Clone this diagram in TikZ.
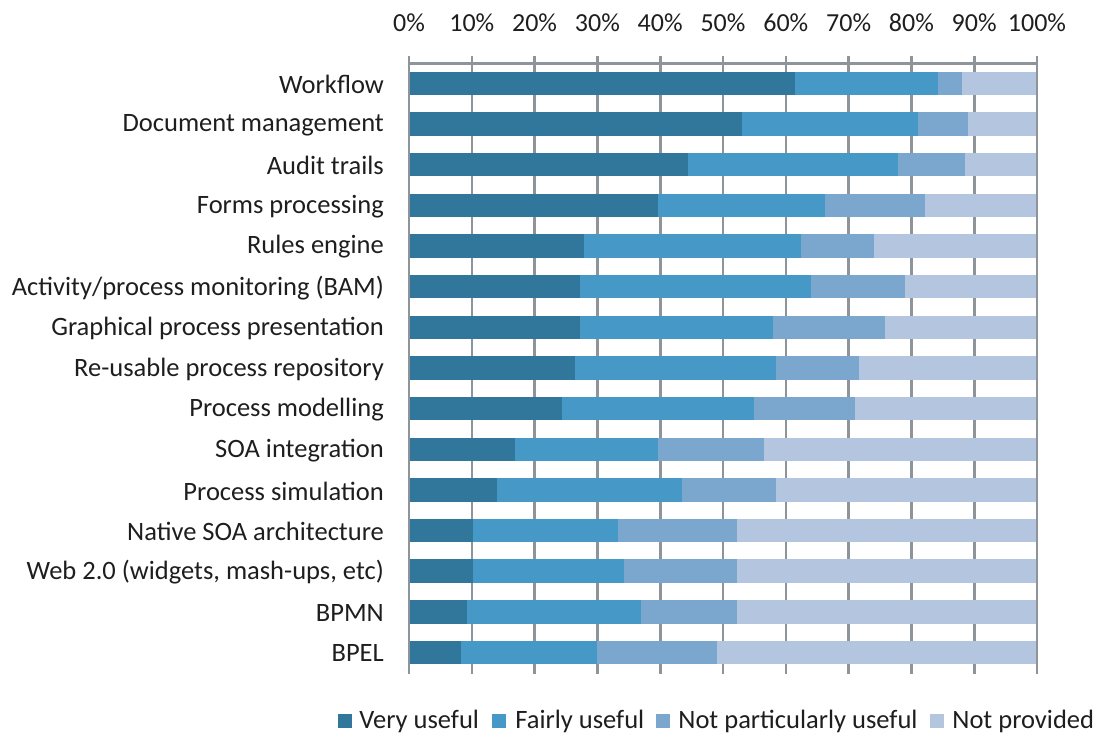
\documentclass[tikz,border=0pt]{standalone}
\usepackage{fontspec}
\setmainfont{Carlito}
\usetikzlibrary{positioning}
\definecolor{veryuse}{HTML}{31779B}
\definecolor{fairuse}{HTML}{4699C6}
\definecolor{notpart}{HTML}{7BA7CF}
\definecolor{notprov}{HTML}{B4C6DF}
\definecolor{gridgray}{HTML}{8E959A}
\definecolor{txtgray}{HTML}{1E1E1E}
\tikzset{
  gridline/.style={draw=gridgray, line width=2.6pt},
  catlabel/.style={anchor=east, inner sep=0pt, text=txtgray, font=\fontsize{26.5}{30}\selectfont},
  ticklabel/.style={inner sep=0pt, text=txtgray, font=\fontsize{26}{30}\selectfont},
  legbox/.style={minimum size=14pt, inner sep=0pt},
  legtext/.style={anchor=west, inner sep=0pt, text=txtgray, font=\fontsize{26.5}{30}\selectfont}
}
\begin{document}
\begin{tikzpicture}[x=1pt,y=-1pt]
\useasboundingbox (0,0) rectangle (1096,737);
% value axis and grid
\foreach \i in {0,...,10}{
  \pgfmathtruncatemacro\pct{10*\i}
  \pgfmathsetmacro\xg{409+62.8*\i}
  \draw[gridline] (\xg,56) -- (\xg,674);
  \node[ticklabel] (tick\i) at (\xg,23) {\pct\%};
}
\draw[gridline] (409,63.3) -- (1037,63.3);
% stacked bars
\foreach \name/\a/\b/\c [count=\r from 0] in {
  Workflow/61.4/84.2/88.0,
  Document management/53.1/81.0/89.0,
  Audit trails/44.4/77.8/88.6,
  Forms processing/39.6/66.2/82.2,
  Rules engine/27.9/62.4/74.1,
  {Activity/process monitoring (BAM)}/27.2/64.0/79.0,
  Graphical process presentation/27.2/57.9/75.8,
  Re-usable process repository/26.5/58.5/71.6,
  Process modelling/24.3/55.0/71.0,
  SOA integration/16.8/39.6/56.6,
  Process simulation/14.0/43.4/58.5,
  Native SOA architecture/10.2/33.2/52.2,
  {Web 2.0 (widgets, mash-ups, etc)}/10.2/34.2/52.2,
  BPMN/9.2/37.0/52.2,
  BPEL/8.3/30.0/49.0}{
  \pgfmathsetmacro\yt{83.5+40.64*\r-11.7}
  \pgfmathsetmacro\yb{83.5+40.64*\r+11.7}
  \pgfmathsetmacro\xa{409+6.28*\a}
  \pgfmathsetmacro\xb{409+6.28*\b}
  \pgfmathsetmacro\xc{409+6.28*\c}
  \fill[veryuse] (409,\yt) rectangle (\xa,\yb);
  \fill[fairuse] (\xa,\yt) rectangle (\xb,\yb);
  \fill[notpart] (\xb,\yt) rectangle (\xc,\yb);
  \fill[notprov] (\xc,\yt) rectangle (1037,\yb);
  \node[catlabel] (cat\r) at (384,{84.5+40.64*\r}) {\name};
}
\draw[gridline] (409,56) -- (409,674);
\draw[gridline] (1037,56) -- (1037,674);
% legend
\node[legbox, fill=veryuse] (keyvery) at (345,721) {};
\node[legtext, right=7pt of keyvery] (txtvery) {Very useful};
\node[legbox, fill=fairuse] (keyfair) at (499,721) {};
\node[legtext, right=9pt of keyfair] (txtfair) {Fairly useful};
\node[legbox, fill=notpart] (keynotpart) at (663,721) {};
\node[legtext, right=8pt of keynotpart] (txtnotpart) {Not particularly useful};
\node[legbox, fill=notprov] (keynotprov) at (937,721) {};
\node[legtext, right=8pt of keynotprov] (txtnotprov) {Not provided};
\end{tikzpicture}
\end{document}
